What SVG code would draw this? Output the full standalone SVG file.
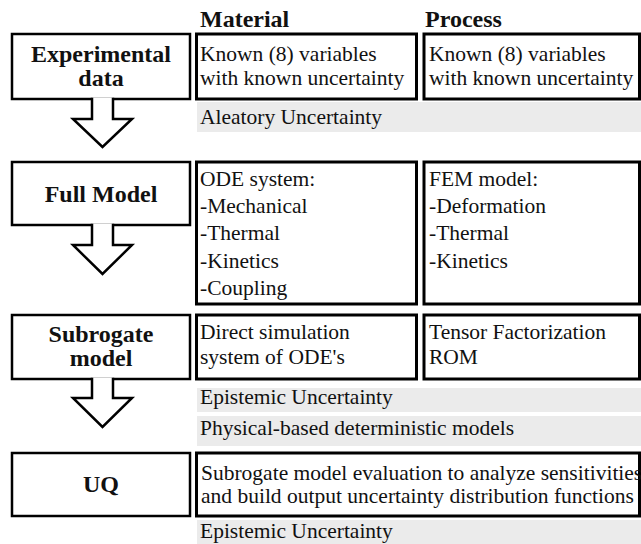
<svg xmlns="http://www.w3.org/2000/svg" width="641" height="544" viewBox="0 0 641 544">
<style>
.lbox{fill:#fff;stroke:#000;stroke-width:2.5}
.rbox{fill:#fff;stroke:#000;stroke-width:3}
.band{fill:#ebebeb;stroke:none}
.t{font-family:"Liberation Serif","Times New Roman",serif;font-size:21.5px;fill:#111}
.b{font-family:"Liberation Serif","Times New Roman",serif;font-size:24px;font-weight:bold;fill:#111}
.c{text-anchor:middle}
.arrow{fill:#fff;stroke:#000;stroke-width:2.5;stroke-linejoin:miter}
</style>
<rect width="641" height="544" fill="#fff"/>
<g id="headers">
<text class="b" x="200" y="27">Material</text>
<text class="b" x="425" y="27">Process</text>
</g>
<g id="experimental-data">
<rect class="lbox" x="12" y="34" width="178" height="65"/>
<text class="b c" x="101" y="62">Experimental</text>
<text class="b c" x="101" y="86">data</text>
</g>
<g id="material-known">
<rect class="rbox" x="196.5" y="34" width="220" height="65"/>
<text class="t" x="200" y="61">Known (8) variables</text>
<text class="t" x="200" y="85">with known uncertainty</text>
</g>
<g id="process-known">
<rect class="rbox" x="424" y="34" width="215.5" height="65"/>
<text class="t" x="429" y="61">Known (8) variables</text>
<text class="t" x="429" y="85">with known uncertainty</text>
</g>
<g id="aleatory">
<rect class="band" x="197" y="102" width="444" height="30"/>
<text class="t" x="200" y="124">Aleatory Uncertainty</text>
</g>
<g id="full-model">
<rect class="lbox" x="12" y="162" width="178" height="63"/>
<text class="b c" x="101" y="202">Full Model</text>
</g>
<g id="ode-system">
<rect class="rbox" x="196.5" y="162" width="220" height="142"/>
<text class="t" x="200" y="186">ODE system:</text>
<text class="t" x="200" y="213">-Mechanical</text>
<text class="t" x="200" y="240">-Thermal</text>
<text class="t" x="200" y="268">-Kinetics</text>
<text class="t" x="200" y="295">-Coupling</text>
</g>
<g id="fem-model">
<rect class="rbox" x="424" y="162" width="215.5" height="142"/>
<text class="t" x="429" y="186">FEM model:</text>
<text class="t" x="429" y="213">-Deformation</text>
<text class="t" x="429" y="240">-Thermal</text>
<text class="t" x="429" y="268">-Kinetics</text>
</g>
<g id="subrogate-model">
<rect class="lbox" x="12" y="315" width="178" height="64"/>
<text class="b c" x="101" y="342">Subrogate</text>
<text class="b c" x="101" y="366">model</text>
</g>
<g id="direct-simulation">
<rect class="rbox" x="196.5" y="315" width="220" height="64"/>
<text class="t" x="200" y="339">Direct simulation</text>
<text class="t" x="200" y="364">system of ODE's</text>
</g>
<g id="tensor-factorization">
<rect class="rbox" x="424" y="315" width="215.5" height="64"/>
<text class="t" x="429" y="339">Tensor Factorization</text>
<text class="t" x="429" y="364">ROM</text>
</g>
<g id="epistemic-1">
<rect class="band" x="197" y="388" width="444" height="24"/>
<text class="t" x="200" y="404">Epistemic Uncertainty</text>
</g>
<g id="physical-based">
<rect class="band" x="197" y="416" width="444" height="30"/>
<text class="t" x="200" y="435">Physical-based deterministic models</text>
</g>
<g id="uq">
<rect class="lbox" x="12" y="453" width="178" height="63"/>
<text class="b c" x="101" y="492">UQ</text>
</g>
<g id="uq-description">
<rect class="rbox" x="196.5" y="453" width="443" height="63"/>
<text class="t" x="201" y="480">Subrogate model evaluation to analyze sensitivities</text>
<text class="t" x="201" y="503">and build output uncertainty distribution functions</text>
</g>
<g id="epistemic-2">
<rect class="band" x="197" y="520" width="444" height="24"/>
<text class="t" x="200" y="538">Epistemic Uncertainty</text>
</g>
<g id="connectors">
<path class="arrow" d="M92,97.8 V119 H73 L102.5,147 L132,119 H113 V97.8"/>
<path class="arrow" d="M92,223.8 V245 H73 L102.5,274 L132,245 H113 V223.8"/>
<path class="arrow" d="M92,377.8 V398 H73 L102.5,427 L132,398 H113 V377.8"/>
</g>
</svg>
